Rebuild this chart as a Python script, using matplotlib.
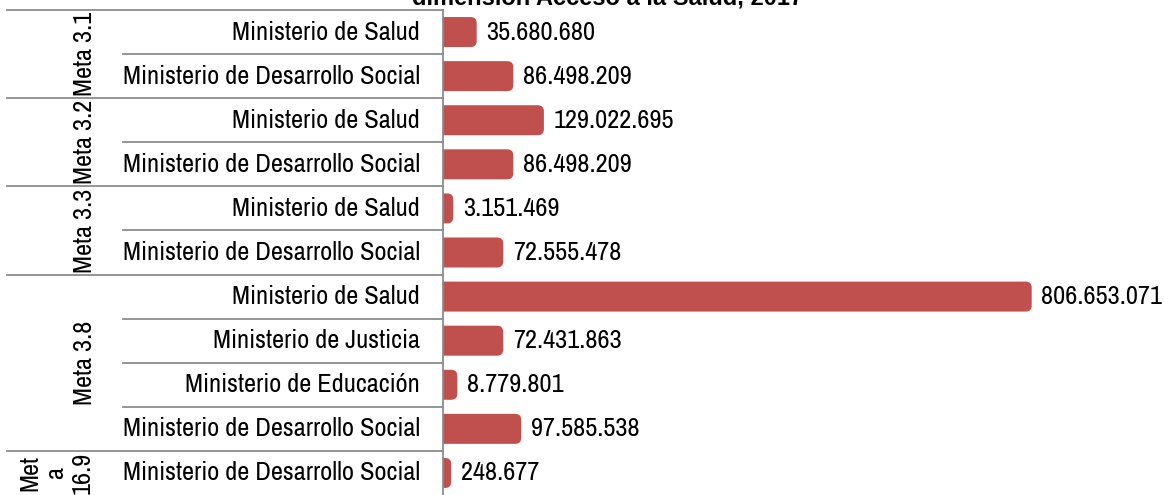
import matplotlib
matplotlib.use('Agg')
import matplotlib.pyplot as plt
from matplotlib import font_manager
from matplotlib.patches import FancyBboxPatch
from matplotlib.lines import Line2D
import matplotlib.transforms as mtransforms

# datos
metas = ['Meta 3.1', 'Meta 3.2', 'Meta 3.3', 'Meta 3.8', 'Met\na\n16.9']
ministerios = [
    ['Ministerio de Salud', 'Ministerio de Desarrollo Social'],
    ['Ministerio de Salud', 'Ministerio de Desarrollo Social'],
    ['Ministerio de Salud', 'Ministerio de Desarrollo Social'],
    ['Ministerio de Salud', 'Ministerio de Justicia', 'Ministerio de Educación',
     'Ministerio de Desarrollo Social'],
    ['Ministerio de Desarrollo Social'],
]
montos = [
    [35680680, 86498209],
    [129022695, 86498209],
    [3151469, 72555478],
    [806653071, 72431863, 8779801, 97585538],
    [248677],
]
titulo = 'dimensión Acceso a la Salud, 2017'

names = {f.name for f in font_manager.fontManager.ttflist}
fam = 'Archivo Narrow' if 'Archivo Narrow' in names else 'Liberation Sans'
plt.rcParams['font.family'] = [fam, 'DejaVu Sans']
fs = 19

W, H = 1164, 495
fig = plt.figure(figsize=(W/100, H/100), dpi=100)
ax_left = 443
ax_top = 10
ax = fig.add_axes([ax_left/W, 0, 1 - ax_left/W, 1 - ax_top/H])

labels = [m for g in ministerios for m in g]
values = [v for g in montos for v in g]
n = len(values)

px_per_unit = 0.7199e-6
xmin = -8/px_per_unit
xmax = xmin + (W - ax_left)/px_per_unit
ax.set_xlim(xmin, xmax)
ax.set_ylim(n - 0.5, -0.5)
ax.axis('off')

color = '#C0504D'
bar_h = 0.68
r = 6/px_per_unit
row_px = (H - ax_top)/n
aspect = (6/row_px)/r
for i, v in enumerate(values):
    x0 = xmin - 2*r
    p = FancyBboxPatch((x0, i - bar_h/2), v - x0, bar_h,
                       boxstyle='round,pad=0,rounding_size=%f' % r,
                       mutation_aspect=aspect, fc=color, ec='none')
    ax.add_patch(p)
    txt = '{:,}'.format(v).replace(',', '.')
    ax.annotate(txt, (v, i), xytext=(7, 0), textcoords='offset points',
                va='center', ha='left', fontsize=fs)

# etiquetas y separadores a la izquierda
tr = mtransforms.blended_transform_factory(fig.transFigure, ax.transData)
gray = '#8C8C8C'
lab_x = 420/W
row_x0 = 123/W
grp_x0 = 7/W
axis_x = ax_left/W
for i, lab in enumerate(labels):
    ax.text(lab_x, i, lab, transform=tr, ha='right', va='center', fontsize=fs)

start = 0
for gi, g in enumerate(ministerios):
    k = len(g)
    # linea superior del grupo
    fig.add_artist(Line2D([grp_x0, axis_x], [start - 0.5, start - 0.5],
                          transform=tr, color=gray, lw=1.3))
    for j in range(1, k):
        fig.add_artist(Line2D([row_x0, axis_x], [start + j - 0.5, start + j - 0.5],
                              transform=tr, color=gray, lw=1.3))
    cy = start + (k - 1)/2
    if k > 1:
        ax.text(85/W, cy, metas[gi], transform=tr, rotation=90,
                ha='center', va='center', fontsize=fs)
    else:
        ax.text(56/W, cy, metas[gi], transform=tr, rotation=90,
                ha='center', va='center', fontsize=fs, linespacing=1.15,
                multialignment='center')
    start += k

# eje vertical
fig.add_artist(Line2D([axis_x, axis_x], [-0.5, n + 0.5], transform=tr,
                      color=gray, lw=1.3))

fig.text(608/W, 1 - 5/H, titulo, ha='center', va='baseline',
         fontsize=17, fontweight='bold', family=['Liberation Sans', 'DejaVu Sans'])

fig.savefig('out.png', dpi=100)
